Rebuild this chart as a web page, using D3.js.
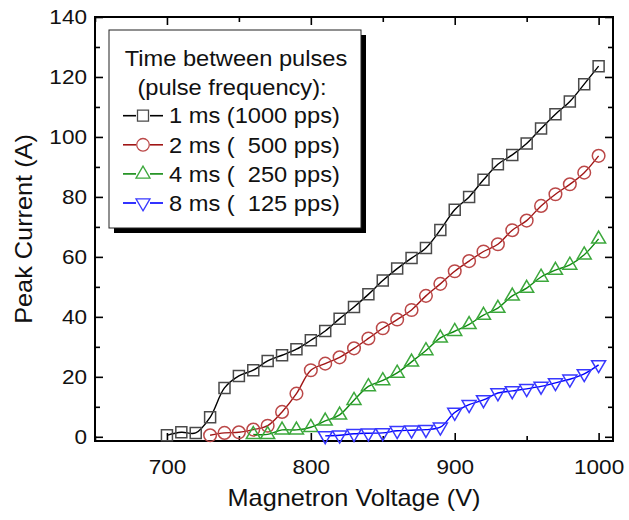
<!DOCTYPE html>
<html>
<head>
<meta charset="utf-8">
<script src="https://cdn.jsdelivr.net/npm/d3@7"></script>
<style>
  body { margin: 0; background: #fff; }
  text { font-family: "Liberation Sans", Arial, sans-serif; fill: #111; white-space: pre; }
</style>
</head>
<body>
<div id="chart"></div>
<script>
// measured voltages (V)
var voltage = [700, 710, 720, 730, 740, 750, 760, 770, 780, 790, 800, 810, 820, 830, 840, 850,
  860, 870, 880, 890, 900, 910, 920, 930, 940, 950, 960, 970, 980, 990, 1000];

// peak current (A), null = not measured
var current1ms = [0.5, 1.5, 1.3, 6.5, 16.3, 20.3, 22.2, 25.3, 27.2, 29.2, 32.2, 35.3, 39.4, 43.3, 47.5, 52.1,
  56.1, 59.6, 63.0, 69.0, 75.7, 80.0, 85.7, 90.9, 94.0, 97.8, 102.8, 107.6, 111.8, 117.6, 123.6];
var current2ms = [null, null, null, 0.5, 1.3, 1.5, 2.4, 3.7, 8.3, 14.4, 22.2, 24.4, 26.5, 29.5, 32.8, 36.2,
  39.1, 42.3, 47.0, 51.0, 55.2, 58.6, 61.8, 64.2, 68.9, 72.1, 77.0, 80.9, 84.2, 88.1, 93.7];
var current4ms = [null, null, null, null, null, null, 0.8, 0.8, 2.3, 2.3, 3.2, 5.3, 7.3, 12.2, 16.8, 18.8,
  21.3, 25.0, 28.8, 33.0, 35.2, 37.5, 40.6, 42.9, 47.0, 49.6, 53.3, 55.6, 57.3, 60.7, 66.0];
var current8ms = [null, null, null, null, null, null, null, null, null, null, null, 0.3, 0.5, 1.0, 1.2, 1.3,
  2.0, 2.2, 2.4, 3.2, 8.1, 10.7, 12.3, 14.6, 15.3, 16.0, 16.8, 18.0, 19.2, 21.0, 24.0];

var legendTitle = ["Time between pulses", "(pulse frequency):"];
var seriesNames = ["1 ms (1000 pps)", "2 ms (  500 pps)", "4 ms (  250 pps)", "8 ms (  125 pps)"];

var xMajor = [700, 800, 900, 1000];
var xMinor = [650, 750, 850, 950];
var yMajor = [0, 20, 40, 60, 80, 100, 120, 140];
var yMinor = [10, 30, 50, 70, 90, 110, 130];

var styles = [
  {line: "#000000", mark: "#4a4a4a", shape: "square"},
  {line: "#a01515", mark: "#bb4848", shape: "circle"},
  {line: "#108a10", mark: "#3ca83c", shape: "up"},
  {line: "#0000ff", mark: "#3838ff", shape: "down"}
];
var allSeries = [current1ms, current2ms, current4ms, current8ms];

var W = 629, H = 520;
var pLeft = 95, pRight = 613, pTop = 17, pBottom = 441;
var SX = 1.1; // reference font is a bit wider than Arial

var svg = d3.select("#chart").append("svg")
  .attr("width", W)
  .attr("height", H);

var x = d3.scaleLinear().domain([650, 1010]).range([pLeft, pRight]);
var y = d3.scaleLinear().domain([-1.4, 140]).range([pBottom, pTop]);

// marker path
function markerPath(shape) {
  if (shape == "square") return "M-5.5,-5.5H5.5V5.5H-5.5Z";
  if (shape == "circle") return "M6.3,0A6.3,6.3 0 1,1 -6.3,0A6.3,6.3 0 1,1 6.3,0Z";
  if (shape == "up") return "M0,-7.8L7,4.2L-7,4.2Z";
  return "M0,7.8L7,-4.2L-7,-4.2Z";
}

// axes (ticks inside)
function styleAxis(g) {
  g.select(".domain").remove();
  g.attr("font-family", null).attr("font-size", null);
  g.selectAll("line").attr("stroke", "#000").attr("stroke-width", 1.6);
}

svg.append("g").attr("transform", "translate(0," + pBottom + ")")
  .call(d3.axisBottom(x).tickValues(xMajor).tickSize(-8).tickPadding(18).tickFormat(d3.format("d")))
  .call(styleAxis)
  .selectAll("text").attr("font-size", 20.5).attr("transform", "scale(" + SX + ",1)");
svg.append("g").attr("transform", "translate(0," + pBottom + ")")
  .call(d3.axisBottom(x).tickValues(xMinor).tickSize(-5).tickFormat(""))
  .call(styleAxis);
svg.append("g").attr("transform", "translate(0," + pTop + ")")
  .call(d3.axisTop(x).tickValues(xMajor).tickSize(-8).tickFormat(""))
  .call(styleAxis);
svg.append("g").attr("transform", "translate(0," + pTop + ")")
  .call(d3.axisTop(x).tickValues(xMinor).tickSize(-5).tickFormat(""))
  .call(styleAxis);

svg.append("g").attr("transform", "translate(" + pLeft + ",0)")
  .call(d3.axisLeft(y).tickValues(yMajor).tickSize(-8).tickPadding(7.3).tickFormat(d3.format("d")))
  .call(styleAxis)
  .selectAll("text").attr("font-size", 20.5).attr("transform", "scale(" + SX + ",1)");
svg.append("g").attr("transform", "translate(" + pLeft + ",0)")
  .call(d3.axisLeft(y).tickValues(yMinor).tickSize(-5).tickFormat(""))
  .call(styleAxis);
svg.append("g").attr("transform", "translate(" + pRight + ",0)")
  .call(d3.axisRight(y).tickValues(yMajor).tickSize(-8).tickFormat(""))
  .call(styleAxis);
svg.append("g").attr("transform", "translate(" + pRight + ",0)")
  .call(d3.axisRight(y).tickValues(yMinor).tickSize(-5).tickFormat(""))
  .call(styleAxis);

// frame
svg.append("rect")
  .attr("x", pLeft).attr("y", pTop)
  .attr("width", pRight - pLeft).attr("height", pBottom - pTop)
  .attr("fill", "none").attr("stroke", "#000").attr("stroke-width", 2);

// axis titles
svg.append("g").attr("transform", "translate(" + ((pLeft + pRight) / 2) + ",506) scale(" + SX + ",1)")
  .append("text").attr("text-anchor", "middle").attr("font-size", 23)
  .text("Magnetron Voltage (V)");
svg.append("g").attr("transform", "translate(32,229) rotate(-90) scale(" + SX + ",1)")
  .append("text").attr("text-anchor", "middle").attr("font-size", 23)
  .text("Peak Current (A)");

// series
var line = d3.line()
  .curve(d3.curveCatmullRom.alpha(0.5))
  .x(function(d) { return x(d[0]); })
  .y(function(d) { return y(d[1]); });

allSeries.forEach(function(vals, i) {
  var pts = voltage.map(function(v, j) { return [v, vals[j]]; })
    .filter(function(d) { return d[1] != null; });
  var st = styles[i];
  svg.append("path")
    .attr("d", line(pts))
    .attr("fill", "none")
    .attr("stroke", st.line)
    .attr("stroke-width", 1.4);
  svg.selectAll(".mk" + i)
    .data(pts)
    .enter()
    .append("path")
    .attr("class", "mk" + i)
    .attr("transform", function(d) { return "translate(" + x(d[0]) + "," + y(d[1]) + ")"; })
    .attr("d", markerPath(st.shape))
    .attr("fill", "none")
    .attr("stroke", st.mark)
    .attr("stroke-width", 1.5);
});

// legend box with shadow
var lg = svg.append("g");
lg.append("rect").attr("x", 114).attr("y", 35).attr("width", 252).attr("height", 198).attr("fill", "#000");
lg.append("rect").attr("x", 109).attr("y", 30).attr("width", 252).attr("height", 198)
  .attr("fill", "#fff").attr("stroke", "#222").attr("stroke-width", 1);

legendTitle.forEach(function(t, i) {
  lg.append("g").attr("transform", "translate(" + (i == 0 ? 236 : 232) + "," + (65.5 + 29 * i) + ") scale(" + SX + ",1)")
    .append("text").attr("text-anchor", "middle").attr("font-size", 21.5).text(t);
});

seriesNames.forEach(function(name, i) {
  var cy = 115.7 + 29.1 * i;
  var st = styles[i];
  lg.append("line").attr("x1", 123).attr("x2", 136).attr("y1", cy).attr("y2", cy)
    .attr("stroke", st.line).attr("stroke-width", 1.6);
  lg.append("line").attr("x1", 150).attr("x2", 163).attr("y1", cy).attr("y2", cy)
    .attr("stroke", st.line).attr("stroke-width", 1.6);
  lg.append("path").attr("transform", "translate(143," + cy + ")")
    .attr("d", markerPath(st.shape))
    .attr("fill", "#fff").attr("stroke", st.mark).attr("stroke-width", 1.3);
  lg.append("g").attr("transform", "translate(169," + (cy + 7.7) + ") scale(" + SX + ",1)")
    .append("text").attr("font-size", 21.5).text(name);
});
</script>
</body>
</html>
